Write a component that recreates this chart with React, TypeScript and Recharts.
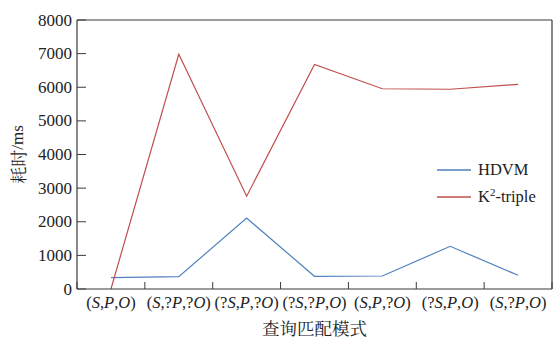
import React from 'react';
import { LineChart, Line, XAxis, YAxis, ReferenceLine, Legend } from 'recharts';

const categories = ['(S,P,O)', '(S,?P,?O)', '(?S,P,?O)', '(?S,?P,O)', '(S,P,?O)', '(?S,P,O)', '(S,?P,O)'];
const hdvm = [336, 366, 2110, 377, 387, 1270, 407];
const k2triple = [0, 6980, 2760, 6680, 5955, 5940, 6085];
const yTicks = [0, 1000, 2000, 3000, 4000, 5000, 6000, 7000, 8000];

const data = categories.map((c, i) => ({ pos: i + 0.5, cat: c, hdvm: hdvm[i], k2: k2triple[i] }));
const xTicks: number[] = [];
for (let i = 0; i <= categories.length; i++) {
  xTicks.push(i);
  if (i < categories.length) xTicks.push(i + 0.5);
}

const FONT = 'Liberation Serif';
const CJK = 'Noto Serif CJK SC';
const AXIS = '#3a3a3a';
const BLUE = '#4f81bd';
const RED = '#c0504d';

const renderCat = (s: string) =>
  s.split('').map((ch, k) =>
    ch === 'S' || ch === 'P' || ch === 'O' ? (
      <tspan key={k} fontStyle="italic">{ch}</tspan>
    ) : (
      <tspan key={k}>{ch}</tspan>
    )
  );

const XTick = (props: any) => {
  const { x, y, payload } = props;
  const v = payload.value as number;
  if (Number.isInteger(v)) {
    return <line x1={x} x2={x} y1={y} y2={y - 7} stroke={AXIS} strokeWidth={1} />;
  }
  const idx = Math.floor(v);
  return (
    <text x={x} y={y} dy={19} textAnchor="middle" fontFamily={FONT} fontSize={16.5} fill="#222">
      {renderCat(categories[idx])}
    </text>
  );
};

const YTick = (props: any) => {
  const { x, y, payload } = props;
  return (
    <g>
      <line x1={x} x2={x + 9} y1={y} y2={y} stroke={AXIS} strokeWidth={1} />
      <text x={x - 5} y={y} dy={5.5} textAnchor="end" fontFamily={FONT} fontSize={17} fill="#222">
        {payload.value}
      </text>
    </g>
  );
};

const LegendContent = () => (
  <div style={{ fontFamily: FONT, fontSize: 16.5, color: '#222', lineHeight: '27px' }}>
    <div style={{ display: 'flex', alignItems: 'center' }}>
      <svg width={34} height={4} style={{ marginRight: 7 }}>
        <line x1={0} x2={34} y1={2} y2={2} stroke={BLUE} strokeWidth={1.3} />
      </svg>
      <span>HDVM</span>
    </div>
    <div style={{ display: 'flex', alignItems: 'center' }}>
      <svg width={34} height={4} style={{ marginRight: 7 }}>
        <line x1={0} x2={34} y1={2} y2={2} stroke={RED} strokeWidth={1.3} />
      </svg>
      <span>
        K<sup style={{ fontSize: 11, verticalAlign: 'top', lineHeight: '18px' }}>2</sup>-triple
      </span>
    </div>
  </div>
);

export default function App() {
  return (
    <div style={{ position: 'absolute', left: 0, top: 0, width: 553, height: 338, background: '#fff' }}>
      <LineChart width={553} height={338} data={data} margin={{ top: 20, right: 1, bottom: 0, left: 0 }}>
        <XAxis
          dataKey="pos"
          type="number"
          domain={[0, 7]}
          ticks={xTicks}
          interval={0}
          tick={<XTick />}
          tickLine={false}
          tickSize={0}
          tickMargin={0}
          height={49}
          stroke={AXIS}
          axisLine={{ stroke: AXIS, strokeWidth: 1.2 }}
          label={{
            content: (p: any) => {
              const vb = p.viewBox || {};
              const cx = (vb.x ?? 77) + (vb.width ?? 475) / 2;
              return (
                <text x={cx} y={334.5} textAnchor="middle" fontFamily={CJK} fontSize={17.5} fill="#222">
                  查询匹配模式
                </text>
              );
            },
          }}
        />
        <YAxis
          type="number"
          domain={[0, 8000]}
          ticks={yTicks}
          interval={0}
          tick={<YTick />}
          tickLine={false}
          tickSize={0}
          tickMargin={0}
          width={77}
          axisLine={{ stroke: AXIS, strokeWidth: 1.2 }}
          label={{
            content: (p: any) => {
              const vb = p.viewBox || {};
              const cx = 17;
              const cy = (vb.y ?? 20) + (vb.height ?? 269) / 2;
              return (
                <text
                  x={cx}
                  y={cy}
                  transform={`rotate(-90, ${cx}, ${cy})`}
                  textAnchor="middle"
                  dominantBaseline="central"
                  fill="#222"
                  fontSize={17}
                >
                  <tspan fontFamily={CJK}>耗时</tspan>
                  <tspan fontFamily={FONT}>/ms</tspan>
                </text>
              );
            },
          }}
        />
        <ReferenceLine y={8000} stroke={AXIS} strokeWidth={1.2} />
        <ReferenceLine x={7} stroke={AXIS} strokeWidth={1.2} />
        <Line type="linear" dataKey="hdvm" stroke={BLUE} strokeWidth={1.2} dot={false} isAnimationActive={false} />
        <Line type="linear" dataKey="k2" stroke={RED} strokeWidth={1.2} dot={false} isAnimationActive={false} />
        <Legend
          layout="horizontal"
          verticalAlign="middle"
          align="center"
          content={<LegendContent />}
          wrapperStyle={{ position: 'absolute', left: 437, top: 156, width: 'auto' }}
        />
      </LineChart>
    </div>
  );
}
